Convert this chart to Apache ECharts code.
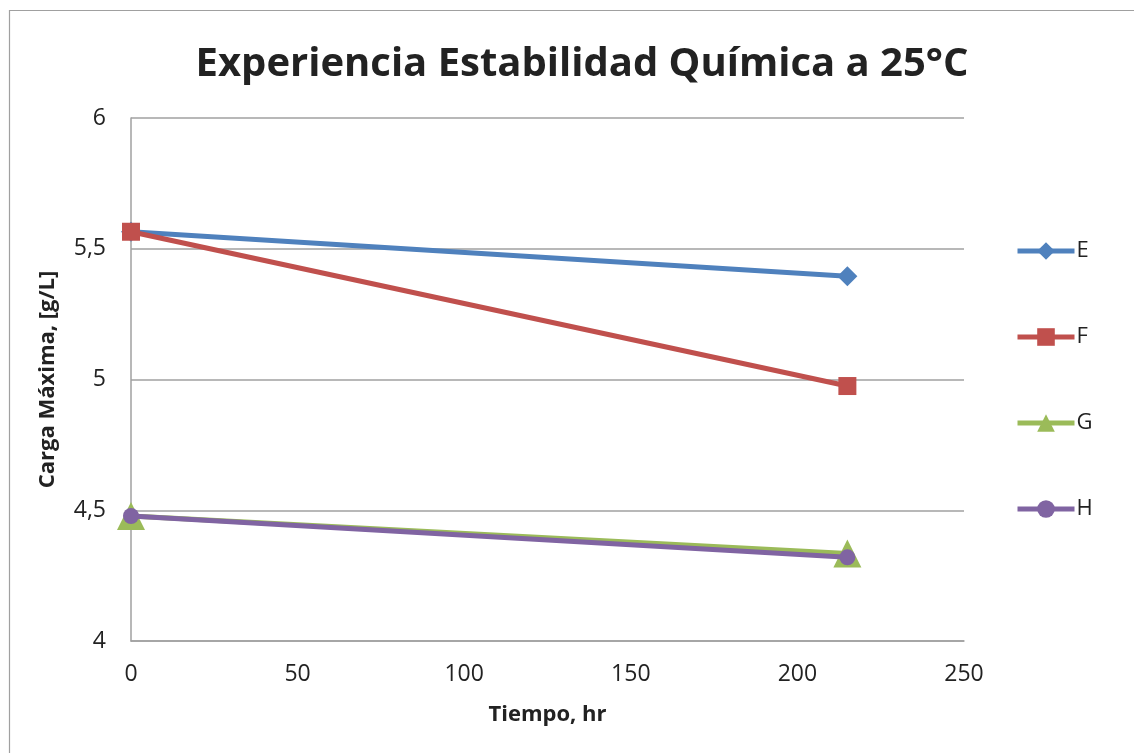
<!DOCTYPE html>
<html>
<head>
<meta charset="utf-8">
<script src="https://cdn.jsdelivr.net/npm/echarts@6/dist/echarts.min.js"></script>
<style>
  html, body { margin: 0; padding: 0; background: #fff; }
  #chart { width: 1134px; height: 753px; }
</style>
</head>
<body>
<div id="chart"></div>
<script>
// Tiempo (hr) at which each sample was measured
const tiempos = [0, 215];

// Carga máxima (g/L) per sample
const serieE = [5.565, 5.395];
const serieF = [5.565, 4.975];
const serieG = [4.478, 4.335];
const serieH = [4.478, 4.320];

const nombres = ['E', 'F', 'G', 'H'];
const valores = [serieE, serieF, serieG, serieH];
const colores = ['#4F81BD', '#C0504D', '#9BBB59', '#8064A2'];
const simbolos = ['diamond', 'rect', 'triangle', 'circle'];
const tamanos = [20, 18, 28, 16];

const font = '"Open Sans", "Noto Sans", sans-serif';

const series = nombres.map((n, i) => ({
  name: n,
  type: 'line',
  data: tiempos.map((t, j) => [t, valores[i][j]]),
  symbol: simbolos[i],
  symbolSize: tamanos[i],
  showSymbol: true,
  lineStyle: { color: colores[i], width: 5 },
  itemStyle: { color: colores[i] },
  emphasis: { disabled: true },
  animation: false,
  z: 2 + i
}));

const chart = echarts.init(document.getElementById('chart'), null, { renderer: 'canvas' });
chart.setOption({
  backgroundColor: '#fff',
  animation: false,
  title: {
    text: 'Experiencia Estabilidad Química a 25°C',
    left: 577,
    top: 40,
    textAlign: 'center',
    textStyle: { fontFamily: font, fontSize: 40, fontWeight: 'bold', color: '#222' }
  },
  graphic: [{
    type: 'rect',
    shape: { x: 9.5, y: 10.5, width: 1140, height: 760 },
    style: { fill: 'none', stroke: '#a0a0a0', lineWidth: 1.2 },
    silent: true,
    z: -1
  }],
  legend: {
    orient: 'vertical',
    left: 1010,
    top: 235,
    itemWidth: 57,
    itemHeight: 22,
    itemGap: 64,
    lineStyle: { width: 5 },
    textStyle: { fontFamily: font, fontSize: 22, color: '#222', padding: [0, 0, 0, -3] },
    data: nombres
  },
  grid: { left: 131, right: 170, top: 118, bottom: 112, containLabel: false },
  xAxis: {
    type: 'value',
    min: 0,
    max: 250,
    interval: 50,
    name: 'Tiempo, hr',
    nameLocation: 'middle',
    nameGap: 63,
    nameTextStyle: { fontFamily: font, fontSize: 22, fontWeight: 'bold', color: '#222' },
    axisLine: { show: true, lineStyle: { color: '#a0a0a0', width: 1.5 } },
    axisTick: { show: false },
    splitLine: { show: false },
    axisLabel: { fontFamily: font, fontSize: 23, color: '#222', margin: 22 }
  },
  yAxis: {
    type: 'value',
    min: 4,
    max: 6,
    interval: 0.5,
    name: 'Carga Máxima, [g/L]',
    nameLocation: 'middle',
    nameGap: 72,
    nameTextStyle: { fontFamily: font, fontSize: 22, fontWeight: 'bold', color: '#222' },
    axisLine: { show: true, lineStyle: { color: '#a0a0a0', width: 1.5 } },
    axisTick: { show: false },
    splitLine: { show: true, lineStyle: { color: '#a0a0a0', width: 1.5 } },
    axisLabel: {
      fontFamily: font, fontSize: 23, color: '#222', margin: 25,
      formatter: v => String(v).replace('.', ',')
    }
  },
  series: series
});
</script>
</body>
</html>
